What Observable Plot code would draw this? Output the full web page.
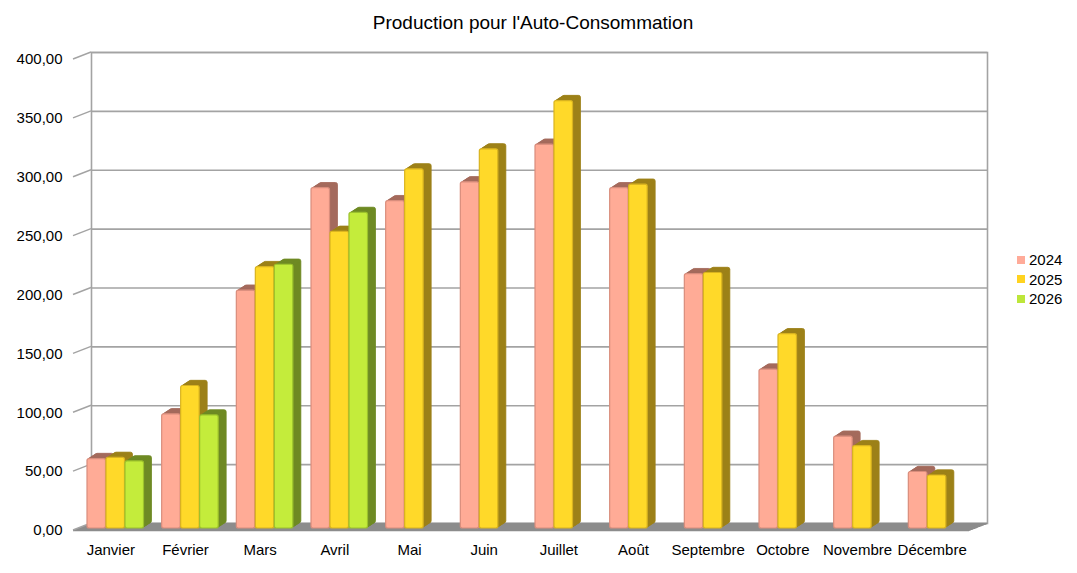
<!DOCTYPE html>
<html>
<head>
<meta charset="utf-8">
<script src="https://cdn.jsdelivr.net/npm/d3@7"></script>
<script src="https://cdn.jsdelivr.net/npm/@observablehq/plot@0.6"></script>
<style>
  html, body { margin: 0; padding: 0; background: #fff; }
  body { width: 1077px; height: 573px; position: relative; overflow: hidden; font-family: "Liberation Sans", Arial, sans-serif; }
  #title { box-sizing: border-box; height: 40px; padding-top: 13px; font-size: 19px; line-height: 19px; text-align: center; padding-right: 11px; color: #000; }
  #chart svg { display: block; }
  #legend { position: absolute; left: 1017px; top: 250px; font-size: 15px; color: #000; }
  .row { height: 19.5px; display: flex; align-items: center; }
  .sw { width: 8px; height: 8px; margin-right: 4px; }
</style>
</head>
<body>
<div id="title">Production pour l'Auto-Consommation</div>
<div id="chart"></div>
<div id="legend"></div>
<script>
const months = ["Janvier","Février","Mars","Avril","Mai","Juin","Juillet","Août","Septembre","Octobre","Novembre","Décembre"];
const years = ["2024","2025","2026"];
const v2024 = [59, 97, 202, 289, 278, 294, 326, 289, 216, 135, 78, 48];
const v2025 = [60, 121, 222, 252, 305, 322, 363, 292, 217, 165, 70, 45];
const v2026 = [57, 96, 224, 268, 0, 0, 0, 0, 0, 0, 0, 0];
const yTicks = [0, 50, 100, 150, 200, 250, 300, 350, 400];

const frontColors = {"2024": "#ffab96", "2025": "#ffd929", "2026": "#c4ec3b"};
const sideColors  = {"2024": "#a46b5d", "2025": "#9d8119", "2026": "#6f8a24"};
const edgeColors  = {"2024": "#d98d7c", "2025": "#d9b31f", "2026": "#9cc22c"};
const legendColors = {"2024": "#ffab99", "2025": "#ffd320", "2026": "#bde63a"};

const series = [v2024, v2025, v2026];
const data = [];
years.forEach((yr, i) => months.forEach((m, j) => {
  if (series[i][j] != null) data.push({month: m, year: yr, value: series[i][j]});
}));

const W = 1077, H = 533;
const mL = 73, mR = 108, mT = 19, mB = 43;
const bw = (W - mL - mR) / months.length;
const barW = 18.5, off0 = 14, step = 19;

const tickFmt = d => d.toFixed(2).replace(".", ",");

const marks = [];
// back wall & grid
marks.push(Plot.ruleY(yTicks, {dx: 18, dy: -7, stroke: "#a3a3a3", strokeWidth: 1.6}));
marks.push(Plot.frame({dx: 18, dy: -7, stroke: "#a3a3a3", strokeWidth: 1.6}));
// floor slab
for (let k = 0; k <= 18; k += 1) {
  marks.push(Plot.ruleY([0], {dx: k, dy: -k * 7 / 18, stroke: "#8c8c8c", strokeWidth: 1.5}));
}
// diagonal tick connectors
marks.push((index, scales, values, dimensions) => {
  const g = d3.create("svg:g");
  for (const t of yTicks) {
    const y = scales.y(t);
    g.append("line")
      .attr("x1", dimensions.marginLeft).attr("y1", y)
      .attr("x2", dimensions.marginLeft + 18).attr("y2", y - 7)
      .attr("stroke", "#a3a3a3").attr("stroke-width", 1.4);
  }
  return g.node();
});
// bars with extrusion
years.forEach((yr, i) => {
  const d = data.filter(r => r.year === yr);
  const il = off0 + step * i;
  const ir = bw - il - barW;
  for (let k = 8; k >= 1; k--) {
    marks.push(Plot.barY(d, {x: "month", y: "value", insetLeft: il, insetRight: ir,
      dx: k, dy: -2 - k * 0.65, fill: sideColors[yr], stroke: sideColors[yr], strokeWidth: 0.8, rx: 2}));
  }
  marks.push(Plot.barY(d, {x: "month", y: "value", insetLeft: il, insetRight: ir,
    dy: -2, fill: frontColors[yr], stroke: edgeColors[yr], strokeWidth: 1.2, rx: 2}));
});
marks.push(Plot.axisY({ticks: yTicks, tickSize: 0, tickPadding: 11, tickFormat: tickFmt, label: null, fontSize: 15}));
marks.push(Plot.axisX({tickSize: 0, tickPadding: 14, label: null, fontSize: 15}));

const chart = Plot.plot({
  width: W, height: H,
  marginLeft: mL, marginRight: mR, marginTop: mT, marginBottom: mB,
  style: {fontFamily: "Liberation Sans, Arial, sans-serif", fontSize: "15px", color: "#000", background: "#fff"},
  x: {domain: months, padding: 0, round: false},
  y: {domain: [0, 400]},
  marks
});
document.getElementById("chart").appendChild(chart);

const legend = document.getElementById("legend");
years.forEach(yr => {
  const row = document.createElement("div");
  row.className = "row";
  const sw = document.createElement("div");
  sw.className = "sw";
  sw.style.background = legendColors[yr];
  const tx = document.createElement("span");
  tx.textContent = yr;
  row.appendChild(sw); row.appendChild(tx);
  legend.appendChild(row);
});
</script>
</body>
</html>
